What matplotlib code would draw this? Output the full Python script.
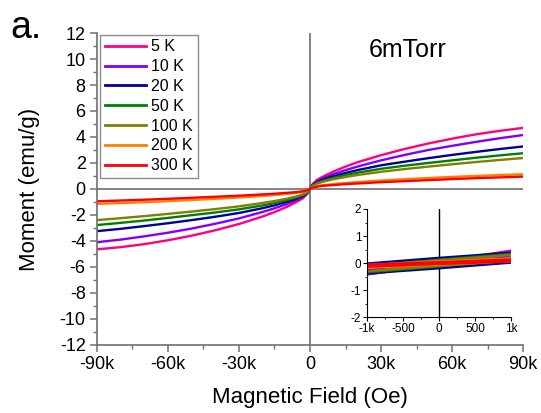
import matplotlib
matplotlib.use("Agg")
import matplotlib.pyplot as plt
from matplotlib.ticker import MultipleLocator, FuncFormatter

plt.rcParams['font.family'] = ['Liberation Sans', 'DejaVu Sans']

# Field points (Oe) for one half of the M(H) curves; the other half is at -H
FIELD_POS = [0, 1000, 3000, 6000, 10000, 15000, 20000, 30000, 40000,
             50000, 60000, 70000, 80000, 90000]

# Moment (emu/g): positive field side
P_5K = [0, 0.35, 0.7, 1.0, 1.35, 1.72, 2.05, 2.6, 3.08, 3.5, 3.87, 4.2, 4.47, 4.7]
P_10K = [0, 0.3, 0.6, 0.86, 1.15, 1.45, 1.72, 2.2, 2.62, 3.0, 3.32, 3.62, 3.9, 4.15]
P_20K = [0, 0.27, 0.52, 0.75, 0.98, 1.23, 1.45, 1.82, 2.1, 2.37, 2.62, 2.85, 3.07, 3.27]
P_50K = [0, 0.25, 0.47, 0.66, 0.86, 1.07, 1.25, 1.55, 1.79, 2.0, 2.2, 2.4, 2.58, 2.75]
P_100K = [0, 0.22, 0.41, 0.58, 0.75, 0.92, 1.07, 1.32, 1.53, 1.72, 1.9, 2.07, 2.23, 2.38]
P_200K = [0, 0.12, 0.22, 0.3, 0.38, 0.46, 0.53, 0.65, 0.75, 0.84, 0.93, 1.0, 1.07, 1.13]
P_300K = [0, 0.1, 0.18, 0.25, 0.3, 0.37, 0.42, 0.52, 0.6, 0.68, 0.76, 0.83, 0.89, 0.95]

# negative field side (same field magnitudes)
N_5K = [0, -0.35, -0.72, -1.03, -1.4, -1.78, -2.12, -2.7, -3.18, -3.6, -3.95, -4.25, -4.48, -4.65]
N_10K = [0, -0.3, -0.61, -0.88, -1.18, -1.49, -1.77, -2.27, -2.68, -3.05, -3.37, -3.65, -3.9, -4.1]
N_20K = [0, -0.27, -0.53, -0.76, -1.0, -1.26, -1.48, -1.85, -2.14, -2.4, -2.64, -2.86, -3.07, -3.25]
N_50K = [0, -0.25, -0.48, -0.67, -0.87, -1.09, -1.27, -1.57, -1.81, -2.02, -2.23, -2.43, -2.61, -2.78]
N_100K = [0, -0.22, -0.41, -0.59, -0.76, -0.93, -1.08, -1.34, -1.55, -1.74, -1.92, -2.09, -2.25, -2.4]
N_200K = [0, -0.12, -0.22, -0.3, -0.39, -0.47, -0.54, -0.66, -0.76, -0.85, -0.94, -1.02, -1.09, -1.15]
N_300K = [0, -0.1, -0.18, -0.25, -0.3, -0.37, -0.42, -0.52, -0.6, -0.68, -0.76, -0.83, -0.89, -0.95]

LABELS = ['5 K', '10 K', '20 K', '50 K', '100 K', '200 K', '300 K']
COLORS = ['#FF0080', '#8000FF', '#000099', '#008000', '#808000', '#FF8000', '#FF0000']
POS = [P_5K, P_10K, P_20K, P_50K, P_100K, P_200K, P_300K]
NEG = [N_5K, N_10K, N_20K, N_50K, N_100K, N_200K, N_300K]

# Low-field loops for the inset (upper and lower branch)
FIELD_LOW = [-1000, 0, 1000]
UPPER = [[-0.37, 0.05, 0.46], [-0.25, 0.08, 0.41], [-0.02, 0.19, 0.38],
         [-0.1, 0.12, 0.34], [-0.1, 0.1, 0.3], [-0.07, 0.05, 0.17], [-0.06, 0.03, 0.13]]
LOWER = [[-0.42, -0.05, 0.37], [-0.41, -0.08, 0.25], [-0.38, -0.19, 0.02],
         [-0.34, -0.12, 0.1], [-0.3, -0.1, 0.1], [-0.17, -0.05, 0.07], [-0.13, -0.03, 0.06]]

SPINE = '#707070'


def kfmt(v, pos):
    if v == 0:
        return '0'
    return '%dk' % round(v / 1000)


fig = plt.figure(figsize=(5.41, 4.13), dpi=100)
ax = fig.add_axes([0.179, 0.165, 0.788, 0.755])

field = [-h for h in FIELD_POS[::-1]] + FIELD_POS[1:]
for p, n, lab, col in zip(POS, NEG, LABELS, COLORS):
    ax.plot(field, n[::-1] + p[1:], color=col, lw=1.7, label=lab)

ax.axhline(0, color=SPINE, lw=1.2, zorder=0)
ax.axvline(0, color=SPINE, lw=1.2, zorder=0)

ax.set_xlim(-90000, 90000)
ax.set_ylim(-12, 12)
ax.xaxis.set_major_locator(MultipleLocator(30000))
ax.xaxis.set_minor_locator(MultipleLocator(15000))
ax.yaxis.set_major_locator(MultipleLocator(2))
ax.yaxis.set_minor_locator(MultipleLocator(1))
ax.xaxis.set_major_formatter(FuncFormatter(kfmt))
ax.yaxis.set_major_formatter(FuncFormatter(lambda v, p: '%d' % v))

for s in ['top', 'right']:
    ax.spines[s].set_visible(False)
for s in ['left', 'bottom']:
    ax.spines[s].set_color(SPINE)
    ax.spines[s].set_linewidth(1.2)
ax.tick_params(which='major', direction='out', length=5, width=1.1, color=SPINE,
               labelsize=13, pad=3)
ax.tick_params(which='minor', direction='out', length=3, width=1.0, color=SPINE)

ax.set_xlabel('Magnetic Field (Oe)', fontsize=16, labelpad=10)
ax.set_ylabel('Moment (emu/g)', fontsize=16, labelpad=14)

leg = ax.legend(loc='upper left', bbox_to_anchor=(0.004, 1.0), fontsize=11.5,
                frameon=True, fancybox=False, handlelength=2.6, handletextpad=0.3,
                labelspacing=0.3, borderpad=0.3, borderaxespad=0.1)
leg.get_frame().set_edgecolor(SPINE)
leg.get_frame().set_linewidth(1.0)
for line in leg.get_lines():
    line.set_linewidth(2.0)

ax.text(0.73, 0.985, '6mTorr', transform=ax.transAxes, fontsize=18,
        ha='center', va='top')
fig.text(0.02, 0.975, 'a.', fontsize=27, ha='left', va='top')

# inset
ins = fig.add_axes([0.678, 0.232, 0.267, 0.262])
for up, lo, col in zip(UPPER, LOWER, COLORS):
    ins.plot(FIELD_LOW, up, color=col, lw=1.8)
    ins.plot(FIELD_LOW, lo, color=col, lw=1.8)
ins.axvline(0, color='black', lw=1.0, zorder=0)
ins.set_xlim(-1000, 1000)
ins.set_ylim(-2, 2)
ins.xaxis.set_major_locator(MultipleLocator(500))
ins.xaxis.set_minor_locator(MultipleLocator(250))
ins.yaxis.set_major_locator(MultipleLocator(1))
ins.yaxis.set_minor_locator(MultipleLocator(0.5))
ins.xaxis.set_major_formatter(FuncFormatter(
    lambda v, p: {-1000: '-1k', 1000: '1k'}.get(int(round(v)), '%d' % v)))
ins.yaxis.set_major_formatter(FuncFormatter(lambda v, p: '%d' % v))
for s in ['top', 'right']:
    ins.spines[s].set_visible(False)
ins.tick_params(which='major', direction='out', length=3, width=0.8, labelsize=8.5, pad=1)
ins.tick_params(which='minor', direction='out', length=1.5, width=0.6)
ins.patch.set_alpha(0)

fig.savefig('out.png', dpi=100)
